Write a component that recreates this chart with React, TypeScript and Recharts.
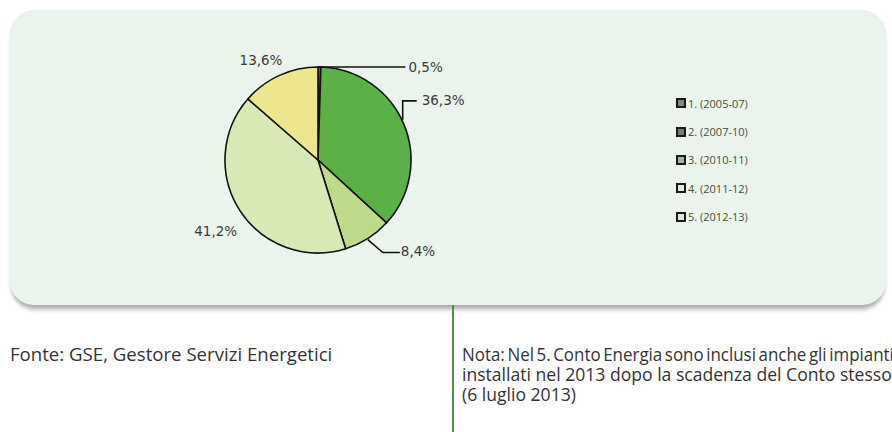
import React from "react";
import { PieChart, Pie, Cell, Legend } from "recharts";

const categories = ["1. (2005-07)", "2. (2007-10)", "3. (2010-11)", "4. (2011-12)", "5. (2012-13)"];
const shares = [0.5, 36.3, 8.4, 41.2, 13.6];
const shareLabels = ["0,5%", "36,3%", "8,4%", "41,2%", "13,6%"];

const sliceColors = ["#2f7a2c", "#5cb146", "#bedb8c", "#d9e9b6", "#ebe68f"];
const legendColors = ["#7e8c79", "#6b8464", "#a9b2a2", "#e4e9df", "#e6e6cc"];

// label placement relative to the slice's outer edge point (style only)
const labelLayouts = [
  { pts: [[0, 0], [86, 0]], text: [89, 0], anchor: "start" },
  { pts: [[-1, -4], [-1, -23], [13, -23]], text: [18, -24], anchor: "start" },
  { pts: [[0, 1], [15, 14], [32, 14]], text: [33, 12], anchor: "start" },
  { pts: [], text: [-3, 20], anchor: "end" },
  { pts: [], text: [3, -15], anchor: "end" },
];

const data = categories.map((c, i) => ({ name: c, value: shares[i], label: shareLabels[i] }));

const RAD = Math.PI / 180;

const renderLabel = (props: any) => {
  const { cx, cy, midAngle, outerRadius, index } = props;
  const ex = cx + outerRadius * Math.cos(-midAngle * RAD);
  const ey = cy + outerRadius * Math.sin(-midAngle * RAD);
  const lay = labelLayouts[index];
  const d = lay.pts.length
    ? lay.pts.map((p: number[], i: number) => `${i === 0 ? "M" : "L"}${ex + p[0]},${ey + p[1]}`).join(" ")
    : "";
  return (
    <g key={`lbl-${index}`}>
      {d && <path d={d} stroke="#111" strokeWidth={1.6} fill="none" />}
      <text
        x={ex + lay.text[0]}
        y={ey + lay.text[1]}
        textAnchor={lay.anchor as any}
        dominantBaseline="central"
        fontFamily="'DejaVu Sans', sans-serif"
        fontSize={13.5}
        fill="#3a3a3a"
      >
        {shareLabels[index]}
      </text>
    </g>
  );
};

const renderLegend = (props: any) => {
  const { payload } = props;
  return (
    <div style={{ fontFamily: "'Open Sans', sans-serif", fontSize: 11, color: "#44503f" }}>
      {(payload || []).map((entry: any, i: number) => (
        <div key={i} style={{ display: "flex", alignItems: "center", height: 28.4 }}>
          <span
            style={{
              display: "inline-block",
              width: 6,
              height: 6,
              border: "2px solid #1a1a1a",
              background: legendColors[i],
              marginRight: 2,
            }}
          />
          <span>{categories[i]}</span>
        </div>
      ))}
    </div>
  );
};

const noteLine = (sx: number) => ({
  height: 20,
  lineHeight: "20px",
  transform: `scaleX(${sx})`,
  transformOrigin: "0 0",
});

export default function App() {
  return (
    <div style={{ position: "absolute", left: 0, top: 0, width: 892, height: 432, background: "#fff", overflow: "hidden" }}>
      <div
        style={{
          position: "absolute",
          left: 10,
          top: 10,
          width: 876,
          height: 295,
          borderRadius: 24,
          background: "#eaf4ec",
          boxShadow: "0 6px 5px -2px rgba(0,0,0,0.35)",
        }}
      />
      <div style={{ position: "absolute", left: 452, top: 305, width: 1.5, height: 127, background: "#4f8f4f" }} />
      <div style={{ position: "absolute", left: 0, top: 0 }}>
        <PieChart width={892} height={320} margin={{ top: 0, right: 0, bottom: 0, left: 0 }}>
          <Pie
            data={data}
            dataKey="value"
            nameKey="name"
            cx={318}
            cy={160}
            outerRadius={93}
            startAngle={90}
            endAngle={-270}
            stroke="#111"
            strokeWidth={1.6}
            label={renderLabel}
            labelLine={false}
            isAnimationActive={false}
          >
            {data.map((d, i) => (
              <Cell key={d.name} fill={sliceColors[i]} />
            ))}
          </Pie>
          <Legend
            layout="vertical"
            content={renderLegend}
            wrapperStyle={{ left: 676, top: 89, width: 120 }}
          />
        </PieChart>
      </div>
      <div
        style={{
          position: "absolute",
          left: 10,
          top: 344,
          fontFamily: "'Open Sans', sans-serif",
          fontSize: 19,
          lineHeight: "20px",
          color: "#333",
          whiteSpace: "nowrap",
          transform: "scaleX(0.98)",
          transformOrigin: "0 0",
        }}
      >
        Fonte: GSE, Gestore Servizi Energetici
      </div>
      <div
        style={{
          position: "absolute",
          left: 462,
          top: 344,
          fontFamily: "'Open Sans', sans-serif",
          fontSize: 18.5,
          color: "#333",
          whiteSpace: "nowrap",
        }}
      >
        <div style={{ ...noteLine(0.915), wordSpacing: -2 }}>Nota: Nel 5. Conto Energia sono inclusi anche gli impianti</div>
        <div style={noteLine(0.95)}>installati nel 2013 dopo la scadenza del Conto stesso</div>
        <div style={noteLine(0.95)}>(6 luglio 2013)</div>
      </div>
    </div>
  );
}
